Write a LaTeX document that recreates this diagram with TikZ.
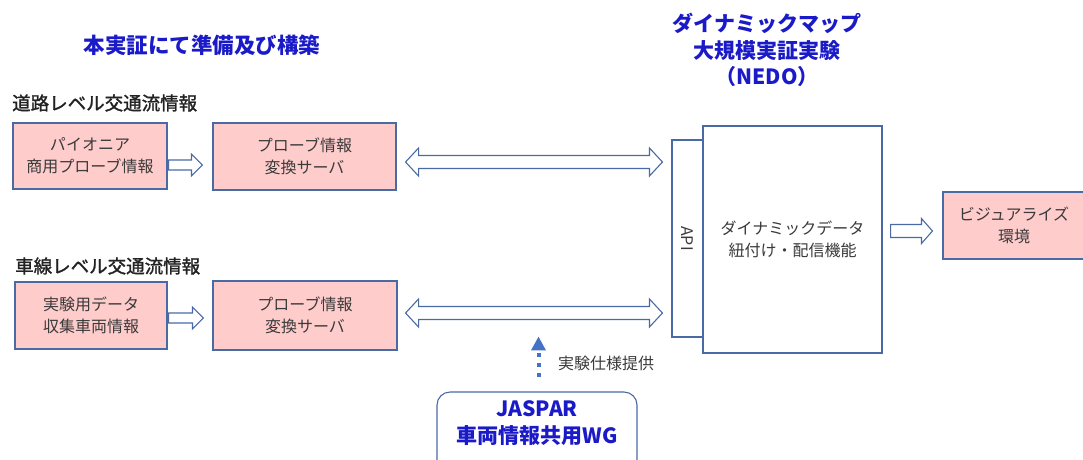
\documentclass[tikz,border=0pt]{standalone}
\usepackage{fontspec}
\setmainfont{Noto Sans CJK JP}
\newfontfamily\jphead[FakeBold=1.4]{Noto Sans CJK JP}
\usetikzlibrary{calc,arrows.meta}
\definecolor{pinkfill}{HTML}{FFCCCC}
\definecolor{edge}{HTML}{4A6AA5}
\definecolor{titleblue}{HTML}{1A1AC8}
\definecolor{dotblue}{HTML}{4472C4}
\definecolor{boxtext}{HTML}{3A3A3A}
\definecolor{headtext}{HTML}{222222}
% single fat arrow: #1 start, #2 end, #3 shaft half, #4 head half, #5 head length
\newcommand\fatarrow[5]{%
  \draw[fatline] let \p1=(#1), \p2=(#2) in
    (\x1,\y1+#3) -- (\x2-#5,\y1+#3) -- (\x2-#5,\y1+#4) -- (\x2,\y1)
    -- (\x2-#5,\y1-#4) -- (\x2-#5,\y1-#3) -- (\x1,\y1-#3) -- cycle;}
\newcommand\fatdblarrow[5]{%
  \draw[fatline] let \p1=(#1), \p2=(#2) in
    (\x1,\y1) -- (\x1+#5,\y1+#4) -- (\x1+#5,\y1+#3) -- (\x2-#5,\y1+#3)
    -- (\x2-#5,\y1+#4) -- (\x2,\y1) -- (\x2-#5,\y1-#4) -- (\x2-#5,\y1-#3)
    -- (\x1+#5,\y1-#3) -- (\x1+#5,\y1-#4) -- cycle;}
\begin{document}
\begin{tikzpicture}[x=1pt,y=-1pt,
  pbox/.style={draw=edge, line width=1.1pt, fill=pinkfill, text=boxtext,
    align=center, inner sep=0pt, font=\fontsize{16}{22}\selectfont},
  wbox/.style={draw=edge, line width=1.1pt, fill=white, text=boxtext,
    align=center, inner sep=0pt},
  fatline/.style={draw=edge, line width=1.1pt, fill=white, line join=miter},
  heading/.style={text=headtext, font=\jphead\fontsize{18.5}{20}\selectfont, anchor=west, inner sep=0pt},
  bluetitle/.style={text=titleblue, align=center, inner sep=0pt},
  dotarrow/.style={draw=dotblue, line width=4pt, dash pattern=on 4pt off 6pt,
    -{Triangle[length=14pt,width=14pt]}, shorten >=0pt},
]
\useasboundingbox (0,0) rectangle (1083,459);

% titles
\node[bluetitle, font=\bfseries\fontsize{21.5}{24}\selectfont] (t1) at (202,45) {本実証にて準備及び構築};
\node[bluetitle, font=\bfseries\fontsize{21}{26.5}\selectfont] (t2) at (767,50) {ダイナミックマップ\\大規模実証実験\\（NEDO）};

% headings
\node[heading] (h1) at (12,103) {道路レベル交通流情報};
\node[heading] (h2) at (15,266) {車線レベル交通流情報};

% left boxes
\node[pbox, minimum width=154pt, minimum height=66pt] (b1) at (90,156) {パイオニア\\商用プローブ情報};
\node[pbox, minimum width=183pt, minimum height=67pt] (b2) at (304.5,156.5) {プローブ情報\\変換サーバ};
\node[pbox, minimum width=152pt, minimum height=67pt] (b3) at (91,315.5) {実験用データ\\収集車両情報};
\node[pbox, minimum width=184pt, minimum height=69pt] (b4) at (305,315.5) {プローブ情報\\変換サーバ};

% central system
\node[wbox, minimum width=31pt, minimum height=197pt, font=\fontsize{16}{16}\selectfont] (api) at (687.5,238.5) {\rotatebox{-90}{API}};
\node[wbox, minimum width=179pt, minimum height=227pt, font=\fontsize{16}{22}\selectfont] (main) at (792.5,239.5) {ダイナミックデータ\\紐付け・配信機能};

% visualize
\node[pbox, minimum width=142pt, minimum height=67pt] (vis) at (1014,225.5) {ビジュアライズ\\環境};

% JASPAR
\node[draw=edge, line width=1.1pt, fill=white, rounded corners=13pt,
  minimum width=200pt, minimum height=82pt, inner sep=0pt] (jaspar) at (537,433) {};
\node[bluetitle, font=\bfseries\fontsize{21}{27}\selectfont] (jtext) at (537,423.5) {JASPAR\\車両情報共用WG};

% arrow end points
\coordinate (a1s) at ($(b1.east)+(1,9)$);
\coordinate (a1e) at ($(b2.west)+(-10,8.5)$);
\coordinate (a2s) at ($(b3.east)+(1,2.5)$);
\coordinate (a2e) at ($(b4.west)+(-9,2.5)$);
\coordinate (d1s) at ($(b2.east)+(9,5.5)$);
\coordinate (d1e) at ($(api.west|-d1s)+(-9,0)$);
\coordinate (d2s) at ($(b4.east)+(8,-2.5)$);
\coordinate (d2e) at ($(api.west|-d2s)+(-9,0)$);
\coordinate (a3s) at ($(main.east)+(8,-8.5)$);
\coordinate (a3e) at ($(vis.west|-a3s)+(-10,0)$);
\coordinate (dots) at ($(jaspar.north)+(0,-14)$);
\coordinate (tip) at ($(jaspar.north)+(1.5,-55)$);

\fatarrow{a1s}{a1e}{5}{11}{11}
\fatarrow{a2s}{a2e}{5}{11}{11}
\fatdblarrow{d1s}{d1e}{6.5}{14}{13}
\fatdblarrow{d2s}{d2e}{6.5}{14}{13}
\fatarrow{a3s}{a3e}{6.5}{12.5}{11}

\draw[dotarrow] (dots-|tip) -- (tip);
\node[text=boxtext, font=\fontsize{16}{18}\selectfont, anchor=west, inner sep=0pt] (spec) at (558,363) {実験仕様提供};
\end{tikzpicture}
\end{document}
